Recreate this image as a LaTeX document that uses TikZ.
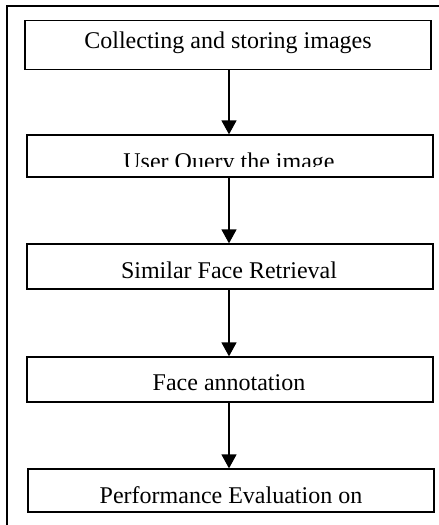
\documentclass[tikz,border=0pt]{standalone}
\usepackage{fontspec}
\setmainfont{Liberation Serif}
\usetikzlibrary{arrows.meta}
\begin{document}
\begin{tikzpicture}[x=1pt,y=-1pt,
  stepbox/.style={draw=black, line width=1.3pt, rectangle, inner sep=0pt, minimum width=406pt},
  steptext/.style={anchor=base, inner sep=0pt, font=\fontsize{24}{28}\selectfont},
  flow/.style={line width=1.5pt, -{Triangle[width=15pt,length=14pt]}}]
\useasboundingbox (0,0) rectangle (439,525);
% outer frame (clipped on right and bottom)
\coordinate (fTL) at (7,6);
\coordinate (fTR) at (445,6);
\coordinate (fBL) at (7,530);
\draw[line width=1.5pt] (fTR) -- (fTL) -- (fBL);
% boxes
\node[stepbox, minimum height=49pt] (b1) at (228,45) {};
\node[stepbox, minimum height=42pt] (b2) at (230,156) {};
\node[stepbox, minimum height=45pt] (b3) at (230,266.5) {};
\node[stepbox, minimum height=45pt] (b4) at (230,379.5) {};
\node[stepbox, minimum height=43pt] (b5) at (231,490.5) {};
% texts
\node[steptext] (t1) at (228,48) {Collecting and storing images};
\begin{scope}
  \clip (b2.north west) rectangle (433,166.5);
  \node[steptext] (t2) at (229,169) {User Query the image};
\end{scope}
\node[steptext] (t3) at (229,278) {Similar Face Retrieval};
\node[steptext] (t4) at (229,390) {Face annotation};
\node[steptext] (t5) at (231,503) {Performance Evaluation on};
% arrows
\draw[flow] (b1.south -| 229,0) -- (b2.north -| 229,0);
\draw[flow] (b2.south -| 229,0) -- (b3.north -| 229,0);
\draw[flow] (b3.south -| 229,0) -- (b4.north -| 229,0);
\draw[flow] (b4.south -| 229,0) -- (b5.north -| 229,0);
\end{tikzpicture}
\end{document}
